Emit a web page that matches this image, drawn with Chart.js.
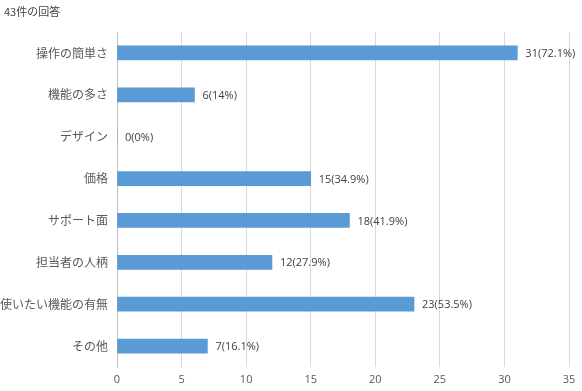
<!DOCTYPE html>
<html>
<head>
<meta charset="utf-8">
<script src="https://cdn.jsdelivr.net/npm/chart.js@4/dist/chart.umd.min.js"></script>
<style>
  html, body { margin: 0; padding: 0; background: #fff; }
  #wrap { width: 582px; height: 391px; position: relative; }
</style>
</head>
<body>
<div id="wrap"><canvas id="answersChart"></canvas></div>
<script>
const titleText = "43件の回答";
const categories = ["操作の簡単さ", "機能の多さ", "デザイン", "価格", "サポート面", "担当者の人柄", "使いたい機能の有無", "その他"];
const counts = [31, 6, 0, 15, 18, 12, 23, 7];
const percents = ["72.1", "14", "0", "34.9", "41.9", "27.9", "53.5", "16.1"];
const xTicks = [0, 5, 10, 15, 20, 25, 30, 35];

const jpFont = "'Noto Sans CJK JP', 'Noto Sans', sans-serif";
const numFont = "'Open Sans', 'Liberation Sans', sans-serif";

// title + value labels drawn by hand
const labelPlugin = {
  id: "labels",
  afterDatasetsDraw(chart) {
    const ctx = chart.ctx;
    ctx.save();
    ctx.fillStyle = "#404040";
    ctx.font = "11px " + numFont;
    ctx.textBaseline = "middle";
    ctx.textAlign = "left";
    chart.getDatasetMeta(0).data.forEach((bar, i) => {
      ctx.fillText(counts[i] + "(" + percents[i] + "%)", bar.x + 8, bar.y + 1);
    });
    ctx.fillStyle = "#444";
    ctx.font = "11px " + jpFont;
    ctx.fillText(titleText, 4, 12);
    ctx.restore();
  },
};

new Chart(document.getElementById("answersChart"), {
  type: "bar",
  data: {
    labels: categories,
    datasets: [
      {
        data: counts,
        backgroundColor: "#5b9bd5",
        barThickness: 14,
      },
    ],
  },
  options: {
    indexAxis: "y",
    responsive: true,
    maintainAspectRatio: false,
    animation: false,
    layout: {
      padding: { top: 32, right: 13, left: 0, bottom: 0 },
    },
    plugins: {
      legend: { display: false },
      tooltip: { enabled: false },
    },
    scales: {
      x: {
        min: 0,
        max: 35,
        afterBuildTicks: (scale) => {
          scale.ticks = xTicks.map((v) => ({ value: v }));
        },
        afterFit: (scale) => {
          scale.height = 24;
        },
        ticks: {
          color: "#595959",
          font: { size: 11, family: numFont },
          padding: 6,
          maxRotation: 0,
        },
        grid: {
          color: "#d9d9d9",
          drawTicks: false,
        },
        border: { display: false },
      },
      y: {
        afterFit: (scale) => {
          scale.width = 117;
        },
        ticks: {
          color: "#595959",
          font: { size: 12, family: jpFont },
          padding: 9,
        },
        grid: { display: false, drawTicks: false },
        border: { color: "#bfbfbf" },
      },
    },
  },
  plugins: [labelPlugin],
});
</script>
</body>
</html>
